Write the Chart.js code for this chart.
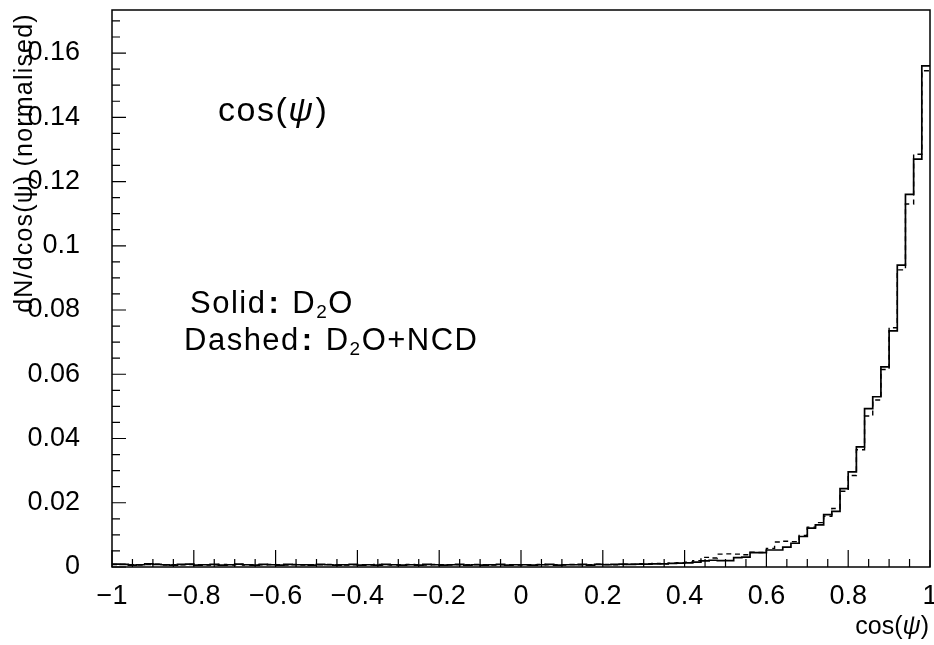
<!DOCTYPE html>
<html>
<head>
<meta charset="utf-8">
<script src="https://cdn.jsdelivr.net/npm/chart.js@4.4.1/dist/chart.umd.min.js"></script>
<style>
  html, body { margin: 0; padding: 0; background: #fff; }
  canvas { display: block; }
</style>
</head>
<body>
<canvas id="chart_cospsi" width="934" height="645"></canvas>
<script>
// Histograma de cos(psi): 100 bins de -1 a 1, D2O (sólido) vs D2O+NCD (discontinuo)
const BIN_START = -1;
const BIN_WIDTH = 0.02;

const solidD2O = [
  0.0009,0.0008,0.0006,0.0007,0.0010,0.0008,0.0007,0.0006,0.0008,0.0009,
  0.0006,0.0007,0.0008,0.0006,0.0007,0.0009,0.0007,0.0006,0.0008,0.0007,
  0.0006,0.0008,0.0007,0.0007,0.0006,0.0008,0.0007,0.0006,0.0007,0.0008,
  0.0006,0.0007,0.0006,0.0008,0.0007,0.0006,0.0007,0.0006,0.0008,0.0007,
  0.0006,0.0007,0.0008,0.0006,0.0007,0.0006,0.0007,0.0008,0.0006,0.0007,
  0.0007,0.0006,0.0007,0.0008,0.0006,0.0007,0.0007,0.0008,0.0006,0.0008,
  0.0007,0.0008,0.0009,0.0008,0.0009,0.0009,0.0010,0.0010,0.0011,0.0012,
  0.0013,0.0015,0.0019,0.0021,0.0020,0.0020,0.0029,0.0031,0.0045,0.0045,
  0.0053,0.0053,0.0062,0.0074,0.0095,0.0121,0.0131,0.0163,0.0173,0.0244,
  0.0296,0.0374,0.0493,0.0530,0.0623,0.0735,0.0940,0.1160,0.1270,0.1560
];

const dashedD2ONCD = [
  0.0008,0.0009,0.0007,0.0006,0.0008,0.0009,0.0006,0.0007,0.0007,0.0008,
  0.0007,0.0006,0.0007,0.0008,0.0006,0.0008,0.0006,0.0007,0.0007,0.0008,
  0.0007,0.0006,0.0008,0.0006,0.0007,0.0007,0.0008,0.0007,0.0006,0.0007,
  0.0007,0.0006,0.0008,0.0007,0.0006,0.0007,0.0008,0.0007,0.0006,0.0008,
  0.0007,0.0006,0.0007,0.0007,0.0008,0.0007,0.0006,0.0007,0.0007,0.0006,
  0.0006,0.0007,0.0008,0.0007,0.0007,0.0006,0.0008,0.0007,0.0007,0.0009,
  0.0008,0.0007,0.0008,0.0009,0.0010,0.0010,0.0011,0.0010,0.0012,0.0013,
  0.0015,0.0020,0.0030,0.0028,0.0040,0.0041,0.0040,0.0038,0.0046,0.0045,
  0.0058,0.0078,0.0080,0.0079,0.0098,0.0124,0.0138,0.0158,0.0182,0.0236,
  0.0285,0.0365,0.0470,0.0520,0.0615,0.0745,0.0925,0.1130,0.1285,0.1545
];

const xTickValues = [-1, -0.8, -0.6, -0.4, -0.2, 0, 0.2, 0.4, 0.6, 0.8, 1];
const yTickValues = [0, 0.02, 0.04, 0.06, 0.08, 0.1, 0.12, 0.14, 0.16];

function toSteps(vals){
  const pts = vals.map((v, i) => ({ x: BIN_START + i * BIN_WIDTH, y: v }));
  pts.push({ x: BIN_START + vals.length * BIN_WIDTH, y: vals[vals.length - 1] });
  return pts;
}

function fmtNum(v){
  const r = Math.round(v * 1000) / 1000;
  const s = String(Math.abs(r));
  return r < 0 ? '\u2212' + s : s;
}

function drawRuns(ctx, x, y, runs){
  let cx = x;
  runs.forEach(r => {
    ctx.font = r.font;
    ctx.fillText(r.text, cx, y + (r.dy || 0));
    cx += ctx.measureText(r.text).width + (r.gap || 0);
  });
  return cx;
}

// marco, marcas de eje hacia dentro y textos
const framePlugin = {
  id: 'frameAndText',
  afterDraw(chart){
    const { ctx, chartArea: a, scales } = chart;
    ctx.save();
    ctx.strokeStyle = '#000';
    ctx.lineWidth = 1.5;
    ctx.strokeRect(a.left, a.top, a.right - a.left, a.bottom - a.top);

    ctx.lineWidth = 1.2;
    ctx.beginPath();
    for (let k = 0; k <= 34; k++){
      const py = scales.y.getPixelForValue(k * 0.005);
      if (py < a.top) break;
      const len = (k % 4 === 0) ? 14 : 8;
      ctx.moveTo(a.left, py); ctx.lineTo(a.left + len, py);
    }
    for (let k = 0; k <= 40; k++){
      const px = scales.x.getPixelForValue(-1 + k * 0.05);
      const len = (k % 4 === 0) ? 17 : 8;
      ctx.moveTo(px, a.bottom); ctx.lineTo(px, a.bottom - len);
    }
    ctx.stroke();

    ctx.fillStyle = '#000';
    ctx.textBaseline = 'alphabetic';
    ctx.textAlign = 'left';
    const F = 'Liberation Sans, Arial, sans-serif';

    ctx.letterSpacing = '1.5px';
    drawRuns(ctx, 218, 121, [
      { text: 'cos(', font: '34px ' + F },
      { text: '\u03C8', font: 'italic 34px ' + F, gap: 1 },
      { text: ')', font: '34px ' + F }
    ]);
    drawRuns(ctx, 190, 313, [
      { text: 'Solid', font: '31px ' + F, gap: 2 },
      { text: ':', font: 'bold 31px ' + F, gap: 12 },
      { text: 'D', font: '31px ' + F },
      { text: '2', font: '19px ' + F, dy: 5 },
      { text: 'O', font: '31px ' + F }
    ]);
    drawRuns(ctx, 184, 350, [
      { text: 'Dashed', font: '31px ' + F, gap: 2 },
      { text: ':', font: 'bold 31px ' + F, gap: 12 },
      { text: 'D', font: '31px ' + F },
      { text: '2', font: '19px ' + F, dy: 5 },
      { text: 'O+NCD', font: '31px ' + F }
    ]);
    ctx.letterSpacing = '0px';

    // título del eje X abajo a la derecha
    ctx.textAlign = 'right';
    ctx.font = '25px ' + F;
    const wParen = ctx.measureText(')').width;
    ctx.fillText(')', 929, 634);
    ctx.font = 'italic 25px ' + F;
    const wPsi = ctx.measureText('\u03C8').width;
    ctx.fillText('\u03C8', 929 - wParen, 634);
    ctx.font = '25px ' + F;
    ctx.fillText('cos(', 929 - wParen - wPsi, 634);

    // título del eje Y, rotado
    ctx.translate(25, 163);
    ctx.rotate(-Math.PI / 2);
    ctx.textAlign = 'center';
    ctx.textBaseline = 'middle';
    ctx.font = '25px ' + F;
    ctx.letterSpacing = '1.2px';
    ctx.fillText('dN/dcos(\u03C8) (normalised)', 0, 0);
    ctx.restore();
  }
};

const tickFont = { family: 'Liberation Sans, Arial, sans-serif', size: 27 };

new Chart(document.getElementById('chart_cospsi'), {
  type: 'line',
  data: {
    datasets: [
      { label: 'D2O', data: toSteps(solidD2O), stepped: 'before', borderColor: '#000', borderWidth: 1.7, pointRadius: 0, fill: false },
      { label: 'D2O+NCD', data: toSteps(dashedD2ONCD), stepped: 'before', borderColor: '#000', borderWidth: 1.4, borderDash: [5, 4], pointRadius: 0, fill: false }
    ]
  },
  options: {
    responsive: false,
    animation: false,
    layout: { padding: { left: 0, top: 10, right: 4, bottom: 0 } },
    plugins: { legend: { display: false }, tooltip: { enabled: false } },
    scales: {
      x: {
        type: 'linear', min: -1, max: 1,
        grid: { display: false }, border: { display: false },
        afterFit(s){ s.height = 78; s.paddingLeft = 0; s.paddingRight = 0; },
        afterBuildTicks(s){ s.ticks = xTickValues.map(v => ({ value: v })); },
        ticks: { font: tickFont, color: '#000', padding: 5, autoSkip: false, maxRotation: 0, includeBounds: false, callback: v => fmtNum(v) }
      },
      y: {
        type: 'linear', min: 0, max: 0.1734,
        grid: { display: false }, border: { display: false },
        afterFit(s){ s.width = 112; s.paddingTop = 0; s.paddingBottom = 0; },
        afterBuildTicks(s){ s.ticks = yTickValues.map(v => ({ value: v })); },
        ticks: { font: tickFont, color: '#000', padding: 24, autoSkip: false, includeBounds: false, callback: v => fmtNum(v) }
      }
    }
  },
  plugins: [framePlugin]
});
</script>
</body>
</html>
